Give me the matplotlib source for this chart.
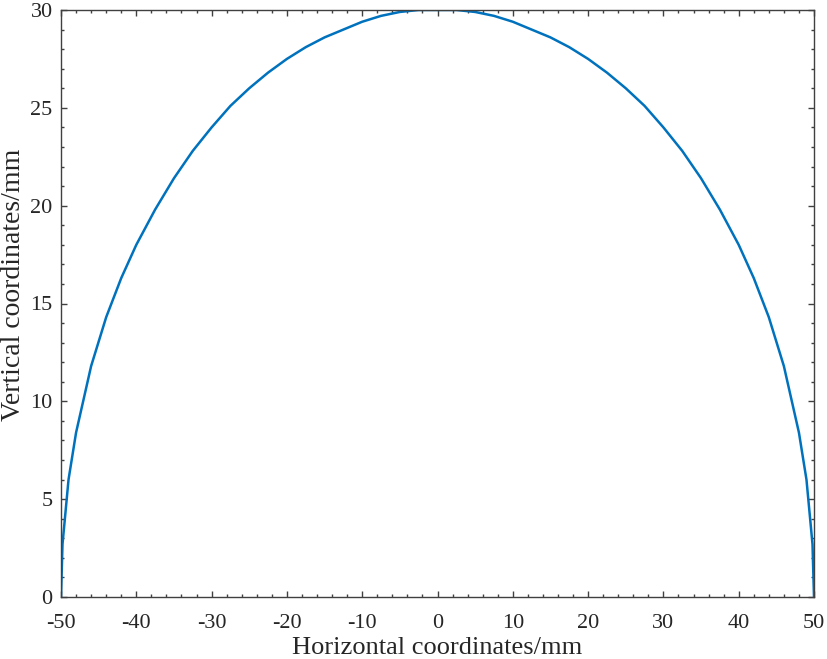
import matplotlib
matplotlib.use("Agg")
import matplotlib.pyplot as plt
from matplotlib.ticker import MultipleLocator

# Data
x_mm = [-50, -49.8, -49, -48, -46, -44, -42, -40, -37.5, -35, -32.5, -30,
        -27.5, -25, -22.5, -20, -17.5, -15, -12.5, -10, -7.5, -5, -2.5, 0,
        2.5, 5, 7.5, 10, 12.5, 15, 17.5, 20, 22.5, 25, 27.5, 30,
        32.5, 35, 37.5, 40, 42, 44, 46, 48, 49, 49.8, 50]
y_mm = [0, 2.7, 6.0, 8.4, 11.8, 14.3, 16.3, 18.0, 19.8, 21.4, 22.8, 24.0,
        25.1, 26.0, 26.8, 27.5, 28.1, 28.6, 29.0, 29.4, 29.7, 29.9, 30.0, 30.0,
        30.0, 29.9, 29.7, 29.4, 29.0, 28.6, 28.1, 27.5, 26.8, 26.0, 25.1, 24.0,
        22.8, 21.4, 19.8, 18.0, 16.3, 14.3, 11.8, 8.4, 6.0, 2.7, 0]
x_ticks = [-50, -40, -30, -20, -10, 0, 10, 20, 30, 40, 50]
y_ticks = [0, 5, 10, 15, 20, 25, 30]
x_label = "Horizontal coordinates/mm"
y_label = "Vertical coordinates/mm"

plt.rcParams['font.family'] = ['Liberation Serif', 'DejaVu Serif']

fig = plt.figure(figsize=(8.27, 6.59), dpi=100)
ax = fig.add_axes([61/827, 1 - 597/659, (814 - 61)/827, (597 - 10)/659])

ax.plot(x_mm, y_mm, color='#0072BD', lw=1.8)

ax.set_xlim(-50, 50)
ax.set_ylim(0, 30)
ax.set_xticks(x_ticks)
ax.set_yticks(y_ticks)
ax.set_xticklabels([str(t) for t in x_ticks])
ax.xaxis.set_minor_locator(MultipleLocator(2))
ax.yaxis.set_minor_locator(MultipleLocator(1))

axcol = '#404040'
for s in ax.spines.values():
    s.set_color(axcol)
    s.set_linewidth(1.0)
ax.tick_params(which='both', direction='in', top=True, right=True,
               color=axcol, labelcolor='#262626', labelsize=16)
ax.tick_params(which='major', length=4.5, width=1.0)
ax.tick_params(which='minor', length=2.3, width=1.0)
ax.tick_params(axis='x', pad=12)
ax.tick_params(axis='y', pad=6)

ax.set_xlabel(x_label, fontsize=19, color='#262626', labelpad=3)
ax.set_ylabel(y_label, fontsize=20, color='#262626')
ax.yaxis.set_label_coords(-0.0465, 0.531)

fig.savefig("out.png", dpi=100)
